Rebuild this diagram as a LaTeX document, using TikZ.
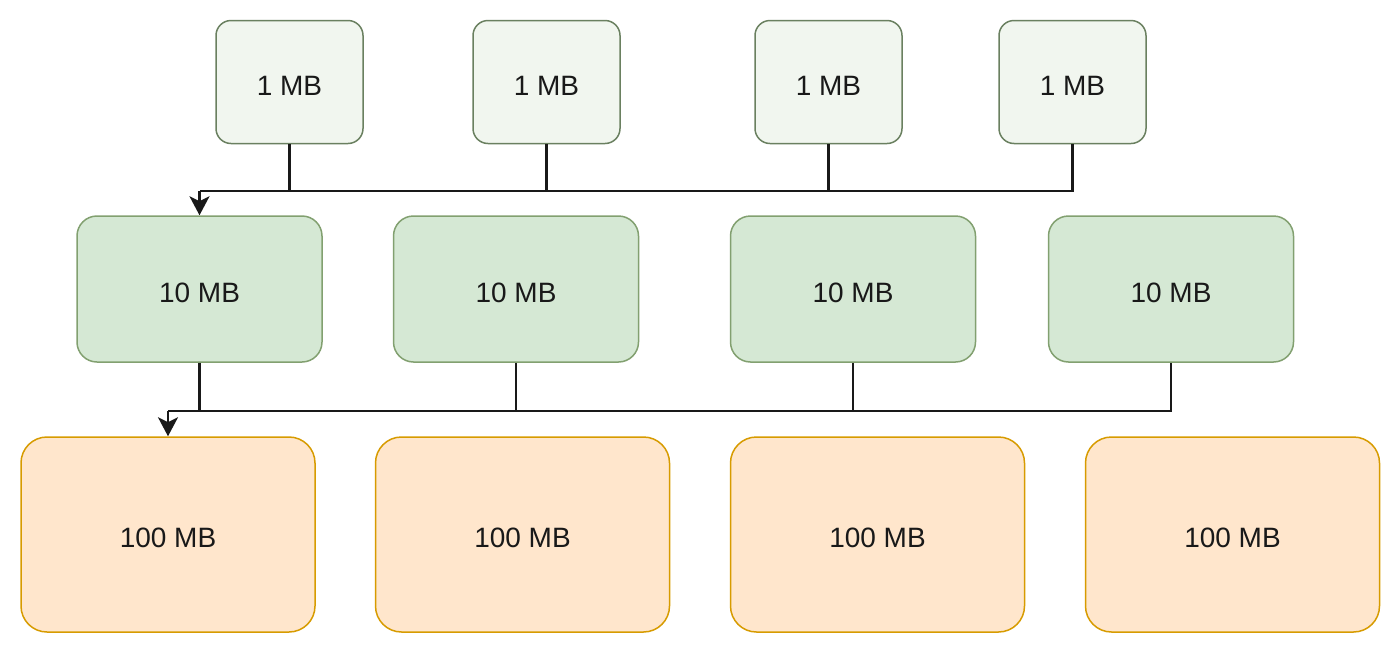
\documentclass[tikz,border=0pt]{standalone}
\usepackage{fontspec}
\setmainfont{Liberation Sans}
\usetikzlibrary{arrows.meta}
\definecolor{topfill}{HTML}{F1F6EF}
\definecolor{topdraw}{HTML}{6A8060}
\definecolor{midfill}{HTML}{D5E8D4}
\definecolor{middraw}{HTML}{82A070}
\definecolor{botfill}{HTML}{FFE6CC}
\definecolor{botdraw}{HTML}{D79B00}
\begin{document}
\begin{tikzpicture}[x=1pt,y=-1pt,
  lbl/.style={font=\fontsize{28}{32}\selectfont, text=black!90, text height=26pt, text depth=0pt},
  onebox/.style={lbl,draw=topdraw,fill=topfill,line width=1.5pt,rounded corners=15pt,minimum width=147pt,minimum height=123pt,inner sep=0pt},
  tenbox/.style={lbl,draw=middraw,fill=midfill,line width=1.5pt,rounded corners=20pt,minimum width=245pt,minimum height=146pt,inner sep=0pt},
  hunbox/.style={lbl,draw=botdraw,fill=botfill,line width=1.5pt,rounded corners=26pt,minimum width=294pt,minimum height=195pt,inner sep=0pt},
  wire/.style={line width=2.6pt,draw=black!90},
  arr/.style={wire,-{Stealth[length=19pt,width=20pt,inset=5pt]}}]
\useasboundingbox (0,0) rectangle (1400,654);
% top row
\node[onebox] (a1) at (289.5,82) {1 MB};
\node[onebox] (a2) at (546.5,82) {1 MB};
\node[onebox] (a3) at (828.5,82) {1 MB};
\node[onebox] (a4) at (1072.5,82) {1 MB};
% middle row
\node[tenbox] (b1) at (199.5,289) {10 MB};
\node[tenbox] (b2) at (516,289) {10 MB};
\node[tenbox] (b3) at (853,289) {10 MB};
\node[tenbox] (b4) at (1171,289) {10 MB};
% bottom row
\node[hunbox] (c1) at (168,534.5) {100 MB};
\node[hunbox] (c2) at (522.5,534.5) {100 MB};
\node[hunbox] (c3) at (877.5,534.5) {100 MB};
\node[hunbox] (c4) at (1232.5,534.5) {100 MB};
% connectors top -> middle
\coordinate (j1) at (b1.north |- 0,191);
\draw[wire] (a1.south) -- (a1.south |- j1);
\draw[wire] (a2.south) -- (a2.south |- j1);
\draw[wire] (a3.south) -- (a3.south |- j1);
\draw[wire] (a4.south) -- (a4.south |- j1) -- (j1);
\draw[arr] (j1) -- (b1.north);
% connectors middle -> bottom
\coordinate (j2) at (c1.north |- 0,411);
\draw[wire] (b1.south) -- (b1.south |- j2);
\draw[wire] (b2.south) -- (b2.south |- j2);
\draw[wire] (b3.south) -- (b3.south |- j2);
\draw[wire] (b4.south) -- (b4.south |- j2) -- (j2);
\draw[arr] (j2) -- (c1.north);
\end{tikzpicture}
\end{document}
